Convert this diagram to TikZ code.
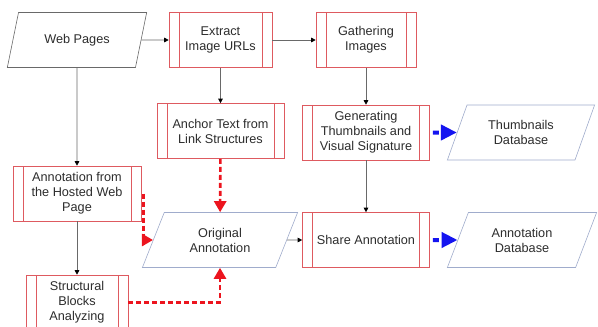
\documentclass[tikz,border=0pt]{standalone}
\usepackage{fontspec}
\setmainfont{Liberation Sans}
\usetikzlibrary{arrows.meta,shapes.geometric}
\definecolor{boxred}{RGB}{222,90,96}
\definecolor{dashred}{RGB}{236,20,30}
\definecolor{dbblue}{RGB}{160,172,204}
\definecolor{linegray}{RGB}{105,105,105}
\definecolor{txtgray}{RGB}{45,45,45}
\definecolor{tipblue}{RGB}{20,20,240}
\tikzset{pr/.style = {draw=boxred, fill=white, line width=0.6pt, minimum height=55pt, inner sep=1pt, align=center,
            path picture={\draw[boxred, line width=0.6pt] ([xshift=10pt]path picture bounding box.north west) -- ([xshift=10pt]path picture bounding box.south west)
                                        ([xshift=-10pt]path picture bounding box.north east) -- ([xshift=-10pt]path picture bounding box.south east);}},
           io/.style = {trapezium, trapezium left angle=65, trapezium right angle=115, trapezium stretches=true,
            draw=dbblue, fill=white, line width=0.6pt, minimum height=55pt, inner sep=1pt, align=center},
           fl/.style = {draw=linegray, line width=0.6pt, -{Triangle[length=4.5pt, width=4.5pt, black]}},
           rd/.style = {draw=dashred, line width=2.6pt, dash pattern=on 5pt off 3pt, -{Triangle[length=11pt, width=12pt]}},
           bd/.style = {draw=tipblue, line width=4pt, dash pattern=on 6pt off 6pt, shorten <=3pt, -{Triangle[length=16pt, width=15pt]}}}

\begin{document}
\begin{tikzpicture}[x=1pt, y=-1pt, font=\fontsize{12.7}{15}\selectfont, text=txtgray]
    \useasboundingbox (0,0) rectangle (598,327);
    \node[io, draw=linegray, minimum width=140pt] (web) at (77,40) {Web Pages};
    \node[pr, minimum width=103pt] (extract) at (220.5,40) {Extract\\Image URLs};
    \node[pr, minimum width=100pt] (gather) at (366,40) {Gathering\\Images};
    \node[pr, minimum width=127pt] (anchor) at (220.5,131) {Anchor Text from\\Link Structures};
    \node[pr, minimum width=127pt] (thumb) at (366,132.5) {Generating\\Thumbnails and\\Visual Signature};
    \node[io, minimum width=148pt] (thumbdb) at (521,132.5) {Thumbnails\\Database};
    \node[pr, minimum width=128pt] (hosted) at (77,193.5) {Annotation from\\the Hosted Web\\Page};
    \node[io, minimum width=156pt] (orig) at (220,240) {Original\\Annotation};
    \node[pr, minimum width=127pt] (share) at (366,240) {Share Annotation};
    \node[io, minimum width=150pt] (annodb) at (522,240) {Annotation\\Database};
    \node[pr, minimum width=102pt] (struct) at (77,302.5) {Structural\\Blocks\\Analyzing};
    \draw[fl] (web) -- (extract);
    \draw[fl] (extract) -- (gather);
    \draw[fl] (extract) -- (anchor);
    \draw[fl] (gather) -- (thumb);
    \draw[fl] (web) -- (hosted);
    \draw[fl] (hosted) -- (struct);
    \draw[fl] (thumb) -- (share);
    \draw[fl] (orig) -- (share);
    \draw[rd] (anchor) -- (orig);
    \draw[rd] ([xshift=2pt]hosted.east) |- (orig.west);
    \draw[rd] (struct.east) -| (orig.south);
    \draw[bd] (thumb.east) -- (thumbdb.west);
    \draw[bd] (share.east) -- (annodb.west);
\end{tikzpicture}
\end{document}
